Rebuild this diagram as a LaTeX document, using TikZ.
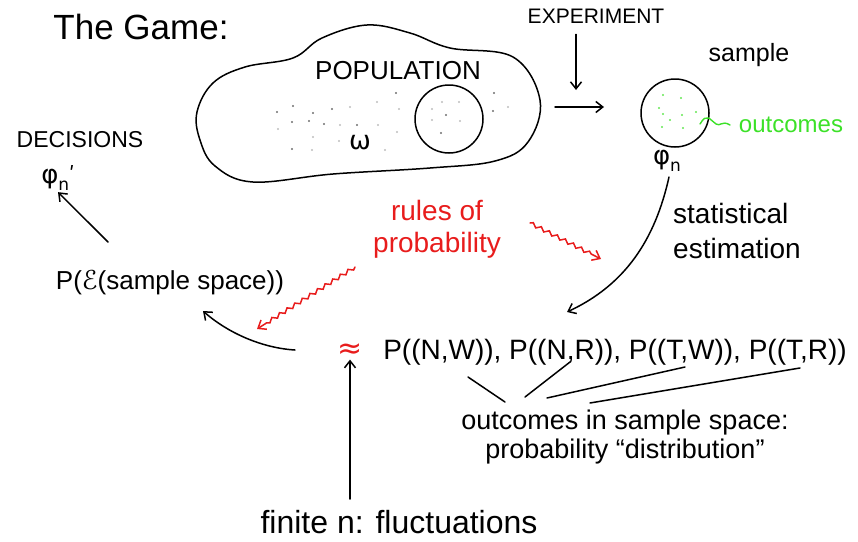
\documentclass[tikz,border=0pt]{standalone}
\usepackage{fontspec}
\setmainfont{Liberation Sans}
\newfontfamily\dejavu{DejaVu Sans}
\usetikzlibrary{arrows.meta,decorations.pathmorphing}
\definecolor{pred}{RGB}{232,28,28}
\definecolor{pgreen}{RGB}{60,225,40}
\definecolor{dotgray}{RGB}{110,110,110}
\definecolor{dotlight}{RGB}{190,190,190}
\newcommand{\fsz}[2]{\fontsize{#1}{#2}\selectfont}
\newcommand{\subn}[1]{\raisebox{-0.28em}{\fontsize{#1}{#1}\selectfont n}}
\begin{document}
\begin{tikzpicture}[x=1pt,y=-1pt,
  ink/.style={line width=1.5pt, line cap=round, line join=round},
  arr/.style={ink,-{Straight Barb[length=7pt,width=11pt,line width=1.5pt]}},
  redarr/.style={line width=1.5pt, line cap=round, pred,
     -{Straight Barb[length=7pt,width=11pt,line width=1.5pt]},
     decorate, decoration={snake,amplitude=1.8pt,segment length=9pt,post length=7pt}},
  lbl/.style={inner sep=1pt, text=black}]
\useasboundingbox (0,0) rectangle (858,541);

% titles and labels
\node[lbl, font=\fsz{35}{40}] (title) at (141,27) {The Game:};
\node[lbl, font=\fsz{26}{30}] (pop) at (398,71) {POPULATION};
\node[lbl, font=\fsz{26}{30}\dejavu] (omega) at (360,143) {ω};
\node[lbl, font=\fsz{21}{24}] (exp) at (596,16) {EXPERIMENT};
\node[lbl, font=\fsz{25}{28}] (sample) at (749,55) {sample};
\node[lbl, text=pgreen, font=\fsz{24}{28}] (outc) at (791,125) {outcomes};
\node[lbl, font=\fsz{26}{30}\dejavu] (phin) at (667,161) {φ\subn{17}};
\node[lbl, align=left, font=\fsz{28}{35}] (stat) at (737,231) {statistical\\estimation};
\node[lbl, font=\fsz{23}{26}] (dec) at (80,140) {DECISIONS};
\node[lbl, font=\fsz{26}{30}\dejavu] (phid) at (58,178) {φ\subn{17}\raisebox{0.1em}{\fsz{20}{20}ʹ}};
\node[lbl, text=pred, align=center, font=\fsz{28}{32}] (rules) at (437,229) {rules of\\probability};
\node[lbl, font=\fsz{26}{30}] (pe) at (170,283) {P({\dejavu ℰ}(sample space))};
\node[lbl, text=pred, font=\fsz{30}{30}\dejavu] (approx) at (350,351) {≈};
\node[lbl, font=\fsz{28}{32}] (pexpr) at (615,352) {P((N,W)), P((N,R)), P((T,W)), P((T,R))};
\node[lbl, align=center, font=\fsz{27}{29}] (osp) at (625,437) {outcomes in sample space:\\probability “distribution”};
\node[lbl, font=\fsz{32}{36}] (finite) at (399,522) {finite n: fluctuations};

% population blob
\draw[ink] plot[smooth cycle, tension=0.62] coordinates {
 (197,112) (213,83) (245,67) (293,58) (322,38) (367,25) (410,33) (450,48)
 (513,57) (540,100) (528,142) (495,161) (430,168) (333,174) (253,182) (215,166) (200,140)};
\node[draw, ink, circle, minimum size=68pt, inner sep=0pt] (sub) at (449,119) {};

% population dots
\foreach \p in {(277,112),(293,106),(313,113),(332,109),(396,93),(292,122),(309,121),(324,124),
  (357,125),(292,149),(446,115),(441,133),(494,93),(493,111)}
  \fill[dotgray] \p circle (1.1pt);
\foreach \p in {(350,107),(377,102),(399,109),(340,125),(378,125),(397,132),(278,129),(313,137),
  (339,141),(312,150),(385,150),(432,109),(442,102),(459,102),(432,120),(460,121),(508,107)}
  \fill[dotlight] \p circle (1.1pt);

% sample circle
\node[draw, ink, circle, minimum size=68pt, inner sep=0pt] (samp) at (675,113) {};
\foreach \p in {(663,95),(681,98),(659,108),(663,114),(670,120),(682,115),(696,112),(662,127),(683,128)}
  \fill[pgreen!80] \p circle (1.1pt);
\coordinate (sq1) at (700,124);
\draw[pgreen, line width=1.4pt, line cap=round] (sq1) .. controls (707,112) and (710,120) .. (716,124)
  .. controls (720,127) and (722,120) .. (730,125);

% arrows
\coordinate (expend) at (576,90);
\draw[arr] (exp.south -| expend) ++(0,10) -- (expend);
\coordinate (ra1) at (555,107);
\coordinate (ra2) at (604,107);
\draw[arr] (ra1) -- (ra2);

\coordinate (esttip) at (567,312);
\draw[arr] (phin.south) ++(2,4) .. controls (655,240) and (625,285) .. (esttip);

\coordinate (decs) at (108,242);
\draw[arr] (decs) -- (phid.south);

\coordinate (pestart) at (295,350);
\coordinate (petip) at (203,311);
\draw[arr] (pestart) .. controls (262,348) and (228,333) .. (petip);

\coordinate (rr1) at (530,223);
\coordinate (rr2) at (601,259);
\draw[redarr] (rr1) -- (rr2);
\coordinate (rl1) at (355,267);
\coordinate (rl2) at (257,329);
\draw[redarr] (rl1) -- (rl2);

\draw[arr] (finite.north -| approx) ++(0,-10) -- (approx.south);

% lines to outcomes
\coordinate (l1a) at (468,377); \coordinate (l1b) at (505,402);
\coordinate (l2a) at (570,362); \coordinate (l2b) at (525,397);
\coordinate (l3a) at (685,367); \coordinate (l3b) at (547,398);
\coordinate (l4a) at (800,368); \coordinate (l4b) at (590,403);
\draw[ink] (l1a) -- (l1b);
\draw[ink] (l2a) -- (l2b);
\draw[ink] (l3a) -- (l3b);
\draw[ink] (l4a) -- (l4b);
\end{tikzpicture}
\end{document}
